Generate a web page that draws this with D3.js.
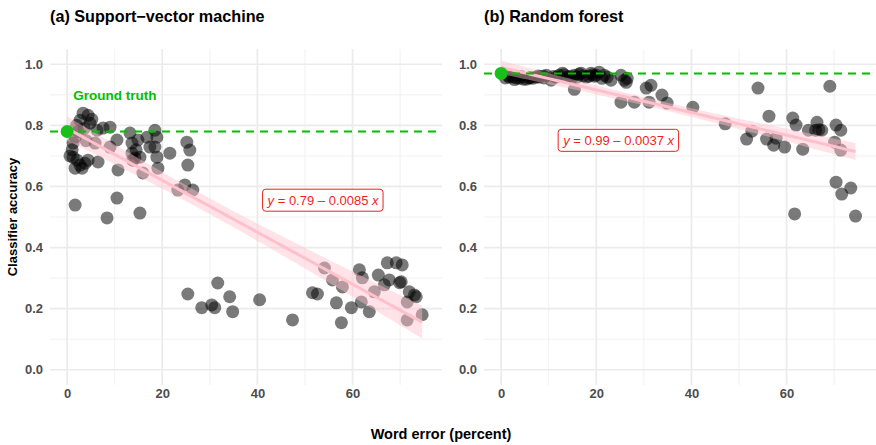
<!DOCTYPE html>
<html><head><meta charset="utf-8">
<script src="https://cdn.jsdelivr.net/npm/d3@7"></script>
<style>
body{margin:0;background:#fff;}
text{font-family:"Liberation Sans",Arial,sans-serif;}
</style></head>
<body><svg id="c" width="876" height="445"></svg>
<script>
// ---- data ----
const panelTitles = ["(a) Support\u2212vector machine", "(b) Random forest"];
const xTicks = [0, 20, 40, 60];
const xMinor = [10, 30, 50, 70];
const yTicks = [0, 0.2, 0.4, 0.6, 0.8, 1.0];
const yMinor = [0.1, 0.3, 0.5, 0.7, 0.9];
const groundTruth = [0.78, 0.97];
const fitIntercept = [0.79, 0.99];
const fitSlope = [-0.0085, -0.0037];
const fitLabels = [["0.79", "0.0085"], ["0.99", "0.0037"]];

const svmX = [3.35,4.4,2.73,4.82,1.68,1.26,1.26,2.1,1.68,3.14,3.77,6.5,6.29,7.55,9.01,5.87,9.01,10.69,10.48,13.21,13.63,13.63,14.26,15.3,15.93,14.88,16.77,17.4,18.45,18.87,18.45,18.87,19.08,21.59,25.16,25.79,25.37,24.74,26.42,23.27,1.68,10.48,8.39,15.3,
  2.3,1.05,4.0,5.2,2.7,4.4,14.5,13.8,0.6,3.6,2.0,
  25.37,28.3,30.4,31.03,31.66,34.17,34.8,40.46,47.38,51.57,52.62,54.09,55.77,56.6,57.86,57.65,59.75,61.43,62.05,61.84,63.52,64.57,65.41,66.67,67.71,67.3,69.18,70.44,70.23,71.91,73.38,71.49,71.49,74.63,69.9,73.0];
const svmY = [0.84,0.833,0.817,0.807,0.761,0.742,0.696,0.686,0.66,0.66,0.676,0.68,0.784,0.791,0.794,0.742,0.729,0.654,0.752,0.775,0.742,0.709,0.693,0.696,0.644,0.752,0.761,0.729,0.784,0.761,0.729,0.696,0.66,0.709,0.745,0.719,0.67,0.605,0.588,0.588,0.539,0.562,0.497,0.513,
  0.78,0.72,0.75,0.82,0.67,0.686,0.72,0.686,0.70,0.79,0.80,
  0.248,0.203,0.212,0.203,0.284,0.239,0.19,0.229,0.163,0.252,0.248,0.333,0.294,0.219,0.271,0.154,0.203,0.327,0.301,0.222,0.19,0.255,0.31,0.278,0.294,0.35,0.35,0.343,0.288,0.255,0.239,0.222,0.163,0.18,0.285,0.245];

const rfX = [0.9,1.7,2.4,3.2,3.8,4.7,5.3,5.9,6.6,7.4,8.0,8.9,9.5,10.5,11.6,12.2,12.9,13.9,14.5,15.4,16.0,16.8,17.9,18.5,18.9,19.6,20.0,20.6,21.2,15.4,21.7,22.3,23.1,25.2,25.9,26.3,26.5,30.5,31.5,25.2,28.0,31.1,33.8,34.9,40.3,
  1.5,2.8,4.2,6.2,7.8,9.0,11.0,13.2,14.8,16.4,17.2,19.2,
  47.1,51.6,52.7,54.0,55.8,56.3,57.3,57.8,59.6,61.3,62.0,63.4,64.6,66.1,66.4,67.4,69.1,70.1,70.4,71.4,71.4,70.4,71.6,73.5,61.7,74.5,66.8];
const rfY = [0.955,0.958,0.958,0.955,0.954,0.951,0.951,0.955,0.954,0.958,0.958,0.961,0.964,0.948,0.958,0.964,0.971,0.958,0.961,0.964,0.958,0.971,0.958,0.961,0.971,0.961,0.964,0.974,0.954,0.918,0.964,0.958,0.948,0.964,0.948,0.941,0.954,0.922,0.931,0.876,0.876,0.876,0.899,0.873,0.859,
  0.962,0.950,0.960,0.957,0.962,0.955,0.960,0.966,0.955,0.968,0.962,0.966,
  0.805,0.755,0.781,0.922,0.755,0.83,0.735,0.758,0.729,0.824,0.801,0.722,0.784,0.784,0.81,0.784,0.928,0.745,0.801,0.784,0.719,0.614,0.575,0.595,0.51,0.503,0.786];

const panelsX = [svmX, rfX];
const panelsY = [svmY, rfY];

// ---- drawing ----
const svg = d3.select("#c");
const panelLeft = [50, 484], panelW = 392;
const y = d3.scaleLinear().domain([-0.05, 1.05]).range([385, 49]);
const green = "#00c000", pink = "#ffc0cb", red = "#f01e1e";

svg.append("text").attr("x", 12).attr("y", 217).attr("transform", "rotate(-90,12,217)")
  .attr("text-anchor", "middle").attr("dy", "0.35em").attr("font-weight", "bold").attr("font-size", 13)
  .text("Classifier accuracy");
svg.append("text").attr("x", 441).attr("y", 439).attr("text-anchor", "middle")
  .attr("font-weight", "bold").attr("font-size", 14.5).text("Word error (percent)");

[0, 1].forEach(p => {
  const L = panelLeft[p];
  const x = d3.scaleLinear().domain([-3.6, 78.8]).range([L, L + panelW]);
  const g = svg.append("g");
  // title
  g.append("text").attr("x", L).attr("y", 22).attr("font-weight", "bold").attr("font-size", 16.2)
    .text(panelTitles[p]);
  // minor grid
  g.selectAll(".vmin").data(xMinor).join("line").attr("x1", d => x(d)).attr("x2", d => x(d))
    .attr("y1", 49).attr("y2", 385).attr("stroke", "#ededed").attr("stroke-width", 0.8);
  g.selectAll(".hmin").data(yMinor).join("line").attr("y1", d => y(d)).attr("y2", d => y(d))
    .attr("x1", L).attr("x2", L + panelW).attr("stroke", "#ededed").attr("stroke-width", 0.8);
  // major grid
  g.selectAll(".vmaj").data(xTicks).join("line").attr("x1", d => x(d)).attr("x2", d => x(d))
    .attr("y1", 49).attr("y2", 385).attr("stroke", "#ebebeb").attr("stroke-width", 1.7);
  g.selectAll(".hmaj").data(yTicks).join("line").attr("y1", d => y(d)).attr("y2", d => y(d))
    .attr("x1", L).attr("x2", L + panelW).attr("stroke", "#ebebeb").attr("stroke-width", 1.7);
  // axes
  const ax = g.append("g").attr("transform", "translate(0,385)")
    .call(d3.axisBottom(x).tickValues(xTicks).tickSize(0).tickPadding(4).tickFormat(d3.format("d")));
  ax.select(".domain").remove();
  ax.selectAll("text").attr("font-size", 13).attr("font-weight", "bold").attr("fill", "#4d4d4d")
    .attr("font-family", "Liberation Sans, Arial, sans-serif");
  const ay = g.append("g").attr("transform", `translate(${L},0)`)
    .call(d3.axisLeft(y).tickValues(yTicks).tickSize(0).tickPadding(7).tickFormat(d3.format(".1f")));
  ay.select(".domain").remove();
  ay.selectAll("text").attr("font-size", 13).attr("font-weight", "bold").attr("fill", "#4d4d4d")
    .attr("font-family", "Liberation Sans, Arial, sans-serif");

  // data points
  const xs = panelsX[p], ys = panelsY[p];
  const pts = xs.map((v, i) => [v, ys[i]]);
  g.selectAll(".pt").data(pts).join("circle").attr("cx", d => x(d[0])).attr("cy", d => y(d[1]))
    .attr("r", 6.5).attr("fill", "#000").attr("fill-opacity", 0.52);

  // regression ribbon (CI around reported fit)
  const a = fitIntercept[p], b = fitSlope[p];
  const n = pts.length, mx = d3.mean(xs);
  const sxx = d3.sum(xs, v => (v - mx) * (v - mx));
  const s = Math.sqrt(d3.sum(pts, d => Math.pow(d[1] - (a + b * d[0]), 2)) / (n - 2));
  const xmax = d3.max(xs);
  const grid = d3.range(0, 81).map(i => i * xmax / 80);
  const band = grid.map(v => {
    const se = s * Math.sqrt(1 / n + (v - mx) * (v - mx) / sxx) * 1.99;
    return { x: v, lo: a + b * v - se, hi: a + b * v + se, m: a + b * v };
  });
  g.append("path").datum(band).attr("fill", pink).attr("fill-opacity", 0.45)
    .attr("d", d3.area().x(d => x(d.x)).y0(d => y(d.lo)).y1(d => y(d.hi)));
  g.append("path").datum(band).attr("fill", "none").attr("stroke", pink).attr("stroke-width", 3)
    .attr("d", d3.line().x(d => x(d.x)).y(d => y(d.m)));

  // ground truth
  g.append("line").attr("x1", L).attr("x2", L + panelW).attr("y1", y(groundTruth[p])).attr("y2", y(groundTruth[p]))
    .attr("stroke", green).attr("stroke-width", 2).attr("stroke-dasharray", "8,6");
  g.append("circle").attr("cx", x(0)).attr("cy", y(groundTruth[p])).attr("r", 6.5).attr("fill", "#19c019");
  if (p === 0) {
    g.append("text").attr("x", x(1.3)).attr("y", y(groundTruth[p]) - 31).attr("fill", green)
      .attr("font-weight", "bold").attr("font-size", 13.5).text("Ground truth");
  }

  // equation label
  const lbl = p === 0 ? { cx: x(53.8), cy: y(0.555) } : { cx: x(24.7), cy: y(0.751) };
  const tg = g.append("g");
  const t = tg.append("text").attr("x", lbl.cx).attr("y", lbl.cy).attr("dy", "0.35em")
    .attr("text-anchor", "middle").attr("fill", red).attr("font-size", 13);
  t.append("tspan").attr("font-style", "italic").text("y");
  t.append("tspan").text(" = " + fitLabels[p][0] + " \u2013 " + fitLabels[p][1] + " ");
  t.append("tspan").attr("font-style", "italic").text("x");
  const bb = t.node().getBBox();
  tg.insert("rect", "text").attr("x", bb.x - 4).attr("y", lbl.cy - 11).attr("width", bb.width + 8)
    .attr("height", 22).attr("rx", 3).attr("fill", "#fff").attr("stroke", red).attr("stroke-width", 1);
});
</script></body></html>
